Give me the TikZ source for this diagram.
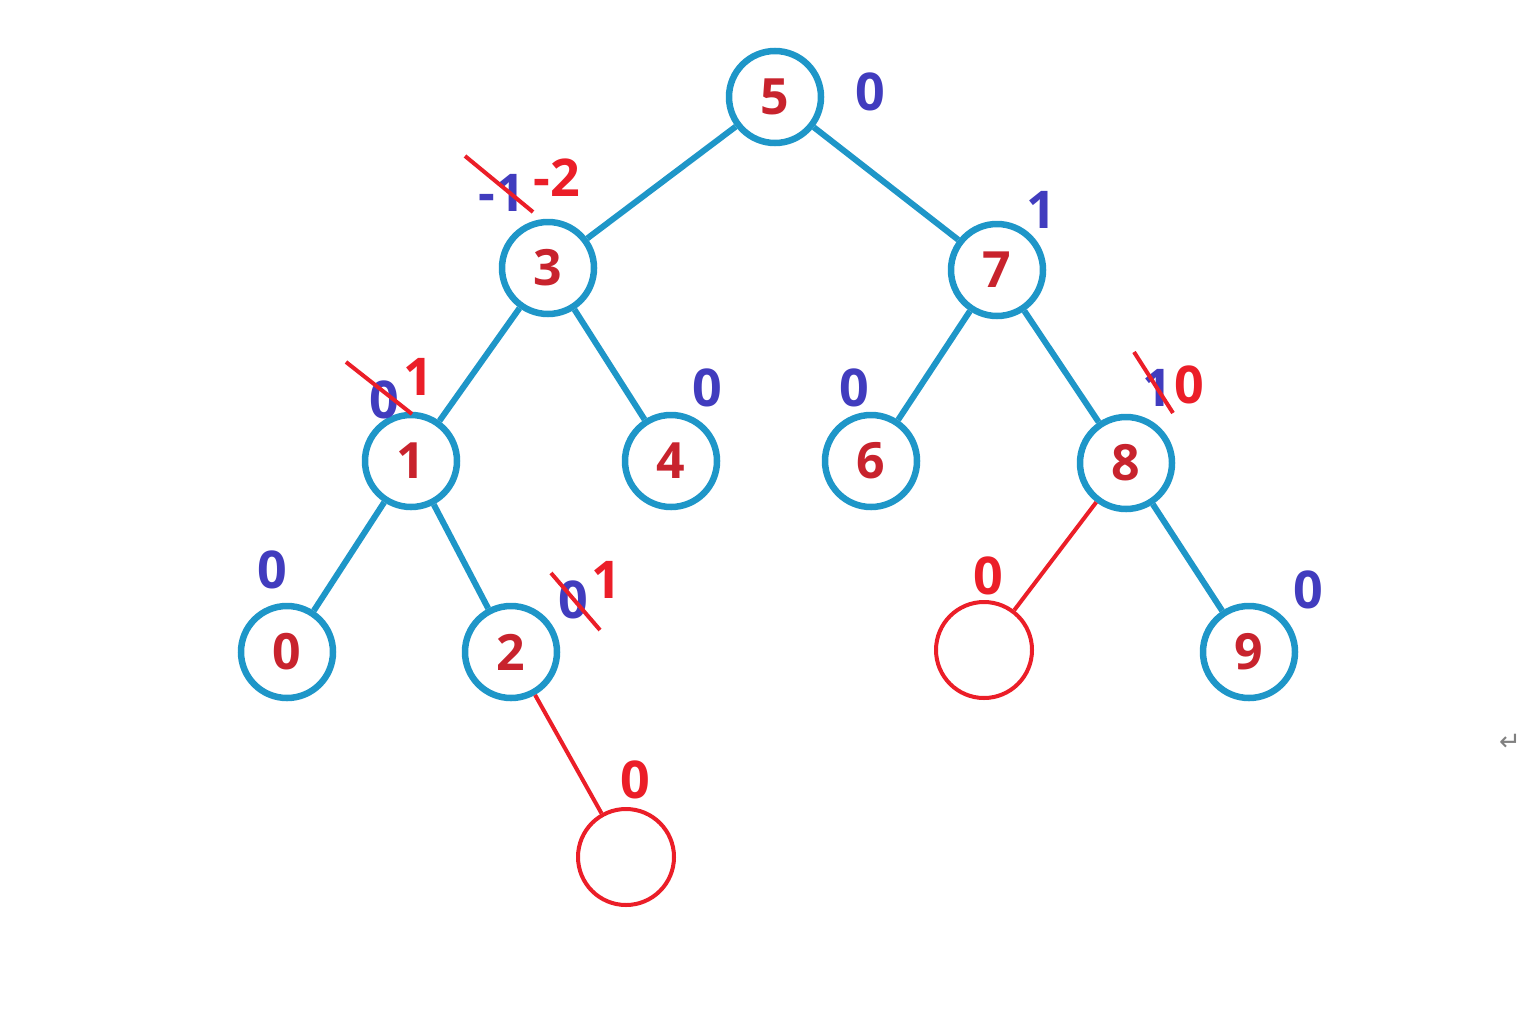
\documentclass[tikz,border=0pt]{standalone}
\usepackage{fontspec}
\setmainfont{Open Sans}
\newfontfamily\symfont{DejaVu Sans}
\usetikzlibrary{calc}

\definecolor{treeblue}{RGB}{30,150,200}
\definecolor{keyred}{RGB}{200,35,45}
\definecolor{balblue}{RGB}{65,60,190}
\definecolor{newred}{RGB}{235,30,40}

\begin{document}
\begin{tikzpicture}[x=1pt,y=-1pt,
  tnode/.style={circle,draw=treeblue,line width=6.5pt,minimum size=92pt,inner sep=0pt,
    text=keyred,font=\fontsize{50}{50}\selectfont\bfseries},
  enode/.style={circle,draw=newred,line width=4pt,minimum size=96pt,inner sep=0pt},
  tedge/.style={draw=treeblue,line width=6pt},
  eedge/.style={draw=newred,line width=4pt},
  bal/.style={text=balblue,font=\fontsize{52}{52}\selectfont\bfseries,inner sep=0pt},
  newbal/.style={text=newred,font=\fontsize{52}{52}\selectfont\bfseries,inner sep=0pt},
  strike/.style={draw=newred,line width=4pt}]
\useasboundingbox (0,0) rectangle (1538,1012);

% tree
\node[tnode] (n5) at (775,97) {5};
\node[tnode] (n3) at (548,268) {3};
\node[tnode] (n7) at (997,270) {7};
\node[tnode] (n1) at (411,461) {1};
\node[tnode] (n4) at (671,461) {4};
\node[tnode] (n6) at (871,461) {6};
\node[tnode] (n8) at (1126,463) {8};
\node[tnode] (n0) at (287,652) {0};
\node[tnode] (n2) at (511,652) {2};
\node[tnode] (n9) at (1249,652) {9};
\node[enode] (e8) at (984,650) {};
\node[enode] (e2) at (626,857) {};

\draw[tedge] (n5) -- (n3);
\draw[tedge] (n5) -- (n7);
\draw[tedge] (n3) -- (n1);
\draw[tedge] (n3) -- (n4);
\draw[tedge] (n7) -- (n6);
\draw[tedge] (n7) -- (n8);
\draw[tedge] (n1) -- (n0);
\draw[tedge] (n1) -- (n2);
\draw[tedge] (n8) -- (n9);
\draw[eedge] (n8) -- (e8);
\draw[eedge] (n2) -- (e2);

% balance factors
\node[bal] (b5) at (870,92) {0};
\node[bal] (b3) at (502,193) {-1};
\node[newbal] (c3) at (557,178) {-2};
\node[bal] (b7) at (1041,210) {1};
\node[bal] (b1) at (384,400) {0};
\node[newbal] (c1) at (418,377) {1};
\node[bal] (b4) at (707,388) {0};
\node[bal] (b6) at (854,388) {0};
\node[bal] (b8) at (1157,388) {1};
\node[newbal] (c8) at (1189,385) {0};
\node[bal] (b0) at (272,570) {0};
\node[bal] (b2) at (573,600) {0};
\node[newbal] (c2) at (606,580) {1};
\node[bal] (b9) at (1308,590) {0};
\node[newbal] (ce8) at (988,576) {0};
\node[newbal] (ce2) at (635,780) {0};

% crossed out
\draw[strike] (465,156) -- (533,212);
\draw[strike] (346,362) -- (412,414);
\draw[strike] (1134,352) -- (1173,413);
\draw[strike] (551,573) -- (600,630);

\node[text=gray,font=\symfont\fontsize{26}{26}\selectfont] (ret) at (1510,742) {↵};
\end{tikzpicture}
\end{document}
